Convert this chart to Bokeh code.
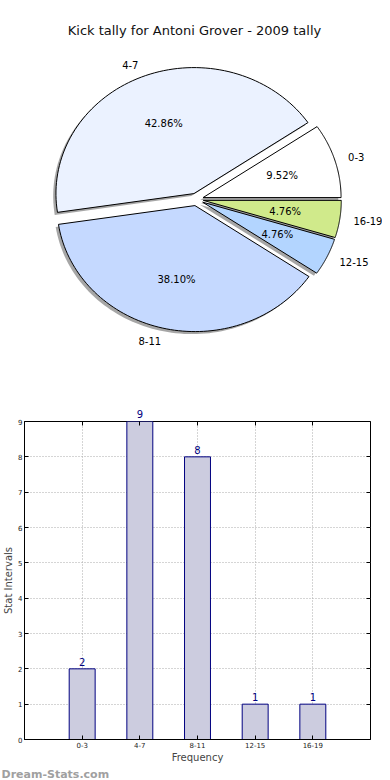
import numpy as np
from bokeh.plotting import figure
from bokeh.models import Label, Title, LinearAxis, FixedTicker, ColumnDataSource
from bokeh.core.properties import value
from bokeh.embed import file_html
from bokeh.resources import INLINE

# ---- data ----
title_text = "Kick tally for Antoni Grover - 2009 tally"
categories = ["0-3", "4-7", "8-11", "12-15", "16-19"]
counts = [2, 9, 8, 1, 1]
pie_colors = ["#ffffff", "#ebf2ff", "#c5d9ff", "#b3d5ff", "#d0ea8b"]
y_ticks = [0, 1, 2, 3, 4, 5, 6, 7, 8, 9]
x_label = "Frequency"
y_label = "Stat Intervals"
watermark = "Dream-Stats.com"

FONT = "DejaVu Sans"
NAVY = "#000080"

# ---- pie ----
explode = 0.05
shadow_off = -0.02
vals = np.array(counts, dtype=float)
fracs = vals / vals.sum()
edges = np.concatenate([[0.0], np.cumsum(fracs)]) * 2 * np.pi

wx, wy, sx, sy = [], [], [], []
lab_x, lab_y, lab_align = [], [], []
pct_x, pct_y, pct_txt = [], [], []
for i in range(len(categories)):
    a0, a1 = edges[i], edges[i + 1]
    mid = 0.5 * (a0 + a1)
    cx, cy = explode * np.cos(mid), explode * np.sin(mid)
    th = np.linspace(a0, a1, 80)
    xs = np.concatenate([[cx], cx + np.cos(th)])
    ys = np.concatenate([[cy], cy + np.sin(th)])
    wx.append(xs.tolist()); wy.append(ys.tolist())
    sx.append((xs + shadow_off).tolist()); sy.append((ys + shadow_off).tolist())
    lab_x.append(cx + 1.1 * np.cos(mid)); lab_y.append(cy + 1.1 * np.sin(mid))
    lab_align.append("left" if np.cos(mid) > 0 else "right")
    pct_x.append(cx + 0.6 * np.cos(mid)); pct_y.append(cy + 0.6 * np.sin(mid))
    pct_txt.append("%.2f%%" % (100 * fracs[i]))

p1 = figure(width=382, height=380, x_range=(-1.420, 1.348), y_range=(-1.437, 1.579),
            output_backend="svg", toolbar_location=None, min_border=0,
            x_axis_location=None, y_axis_location=None)
p1.grid.visible = False
p1.outline_line_color = None

p1.patches(sx, sy, fill_color="#808080", fill_alpha=0.7, line_color=None)
p1.patches(wx, wy, fill_color=pie_colors, line_color="black", line_width=1)

src_lab = ColumnDataSource(dict(x=lab_x, y=lab_y, t=categories, a=lab_align))
p1.text("x", "y", text="t", text_align="a", source=src_lab, text_baseline="middle",
        text_font=value(FONT), text_font_size="10px", text_color="black")
p1.text(pct_x, pct_y, text=pct_txt, text_align="center", text_baseline="middle",
        text_font=value(FONT), text_font_size="10px", text_color="black")

p1.add_layout(Label(x=194, y=350, x_units="screen", y_units="screen", text=title_text,
                    text_align="center", text_baseline="middle", text_font=FONT,
                    text_font_size="13px", text_color="#111111"))

# ---- bars ----
xpos = np.arange(len(categories))
y_max = y_ticks[-1]
p2 = figure(width=382, height=400, x_range=(-1, 5), y_range=(0, y_max),
            output_backend="svg", toolbar_location=None,
            min_border_top=41, min_border_right=12, min_border_left=0, min_border_bottom=40)
xa = p2.xaxis[0]
ya = p2.yaxis[0]
p2.vbar(x=xpos, top=counts, width=0.45, bottom=0, fill_color="#ccccdf",
        line_color=NAVY, line_width=1)

# value labels: inside the frame as text glyphs, at the frame top via an axis above
in_x = [int(x) for x, c in zip(xpos, counts) if c < y_max]
in_c = [c for c in counts if c < y_max]
p2.text(in_x, in_c, text=[str(c) for c in in_c], text_align="center",
        text_baseline="bottom", y_offset=-3, text_font=value(FONT), text_font_size="10px",
        text_color=NAVY)

xa.ticker = FixedTicker(ticks=list(xpos))
xa.major_label_overrides = {int(i): c for i, c in zip(xpos, categories)}
ya.ticker = FixedTicker(ticks=y_ticks)
for ax in (xa, ya):
    ax.major_tick_in = 4
    ax.major_tick_out = 0
    ax.minor_tick_in = 0
    ax.minor_tick_out = 0
    ax.major_label_text_font = FONT
    ax.major_label_text_font_size = "7px"
    ax.major_label_text_color = "#222222"
    ax.major_label_standoff = 2
    ax.axis_label_text_font = FONT
    ax.axis_label_text_font_size = "10px"
    ax.axis_label_text_font_style = "normal"
    ax.axis_label_standoff = 1
    ax.axis_line_color = "black"
xa.axis_label = x_label
ya.axis_label = y_label

top_axis = LinearAxis(ticker=FixedTicker(ticks=list(xpos)))
top_axis.major_label_overrides = {int(x): (str(c) if c >= y_max else "")
                                  for x, c in zip(xpos, counts)}
top_axis.axis_line_color = None
top_axis.major_tick_in = 4
top_axis.major_tick_out = 0
top_axis.minor_tick_in = 0
top_axis.minor_tick_out = 0
top_axis.major_label_standoff = 4
top_axis.major_label_text_font = FONT
top_axis.major_label_text_font_size = "10px"
top_axis.major_label_text_color = NAVY
p2.add_layout(top_axis, "above")

right_axis = LinearAxis(ticker=FixedTicker(ticks=y_ticks))
right_axis.major_label_overrides = {t: "" for t in y_ticks}
right_axis.axis_line_color = None
right_axis.major_tick_in = 4
right_axis.major_tick_out = 0
right_axis.minor_tick_in = 0
right_axis.minor_tick_out = 0
right_axis.major_label_text_font_size = "1px"
right_axis.major_label_standoff = 0
p2.add_layout(right_axis, "right")

p2.grid.grid_line_color = "#aaaaaa"
p2.grid.grid_line_dash = "1 2"
p2.grid.grid_line_width = 1
p2.outline_line_color = "black"
p2.outline_line_alpha = 1
p2.outline_line_width = 1

wm = Title(text=watermark, align="left", offset=-23, standoff=0,
           text_font=FONT, text_font_size="11px", text_font_style="bold",
           text_color="#a0a0a0")
p2.add_layout(wm, "below")

open("out.html", "w").write(file_html([p1, p2], INLINE))
